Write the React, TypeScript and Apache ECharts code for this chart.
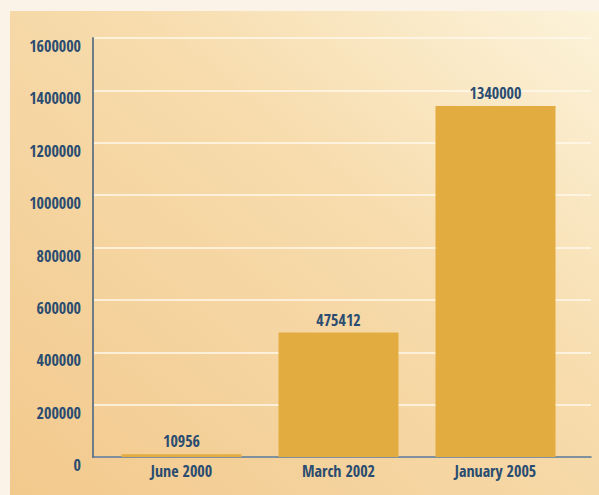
import React, { useEffect, useRef } from "react";
import * as echarts from "echarts";

const categories = ["June 2000", "March 2002", "January 2005"];
const values = [10956, 475412, 1340000];
const yTicks = [0, 200000, 400000, 600000, 800000, 1000000, 1200000, 1400000, 1600000];

const FONT = "'Open Sans Condensed', 'Roboto Condensed', 'DejaVu Sans Condensed', sans-serif";
const NAVY = "#2A4C70";

export default function App() {
  const ref = useRef<HTMLDivElement>(null);
  useEffect(() => {
    document.body.style.margin = "0";
    const chart = echarts.init(ref.current!, undefined, { renderer: "svg" });
    const yMax = yTicks[yTicks.length - 1];
    const yInterval = yTicks[1] - yTicks[0];
    chart.setOption({
      animation: false,
      backgroundColor: "#FBF3E7",
      graphic: [
        {
          type: "rect",
          left: 10,
          top: 11,
          shape: { width: 589, height: 484 },
          silent: true,
          z: -10,
          style: {
            fill: new echarts.graphic.LinearGradient(0, 1, 1, 0, [
              { offset: 0, color: "#F2C98D" },
              { offset: 0.6, color: "#F7DCAD" },
              { offset: 1, color: "#FCF3DA" },
            ]),
          },
        },
      ],
      grid: [
        { left: 93, right: 8, top: 38, bottom: 38, containLabel: false },
        { left: 103, right: 25, top: 38, bottom: 38, containLabel: false },
      ],
      xAxis: [
        {
          type: "category",
          gridIndex: 0,
          data: categories,
          axisLine: { show: true, lineStyle: { color: "#56708A", width: 1.5 } },
          axisTick: { show: false },
          axisLabel: { show: false },
          splitLine: { show: false },
        },
        {
          type: "category",
          gridIndex: 1,
          data: categories,
          axisLine: { show: false },
          axisTick: { show: false },
          axisLabel: {
            color: NAVY,
            fontFamily: FONT,
            fontWeight: "bold",
            fontSize: 16,
            margin: 6,
          },
        },
      ],
      yAxis: [
        {
          type: "value",
          gridIndex: 0,
          min: 0,
          max: yMax,
          interval: yInterval,
          axisLine: { show: true, lineStyle: { color: "#6E7C88", width: 2 } },
          axisTick: { show: false },
          axisLabel: {
            color: NAVY,
            fontFamily: FONT,
            fontWeight: "bold",
            fontSize: 16,
            margin: 12,
            verticalAlign: "top",
            formatter: (v: number) => String(v),
          },
          splitLine: { show: true, lineStyle: { color: "#FFF8EC", width: 1.5 } },
        },
        {
          type: "value",
          gridIndex: 1,
          min: 0,
          max: yMax,
          interval: yInterval,
          show: false,
          splitLine: { show: false },
        },
      ],
      series: [
        {
          type: "bar",
          xAxisIndex: 1,
          yAxisIndex: 1,
          data: values,
          barWidth: 120,
          itemStyle: { color: "#E3AC40" },
          label: {
            show: true,
            position: "top",
            distance: 5,
            color: NAVY,
            fontFamily: FONT,
            fontWeight: "bold",
            fontSize: 16,
          },
        },
      ],
    });
    return () => chart.dispose();
  }, []);
  return <div ref={ref} style={{ width: 599, height: 495 }} />;
}
